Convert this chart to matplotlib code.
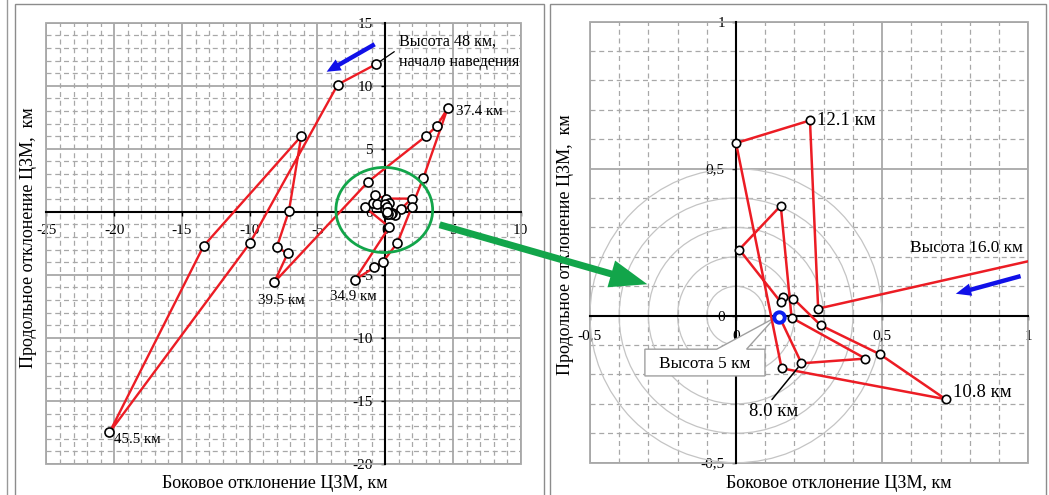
import matplotlib
matplotlib.use("Agg")
import matplotlib.pyplot as plt
from matplotlib.patches import Rectangle, Ellipse, Circle, Polygon, FancyArrowPatch
from matplotlib.lines import Line2D
from matplotlib.ticker import MultipleLocator, FuncFormatter

plt.rcParams['font.family'] = ['Liberation Serif', 'DejaVu Serif']
plt.rcParams['axes.unicode_minus'] = False

# Trajectory of the aim point deviation, km (lateral, longitudinal)
x_km = [-0.7, -3.5, -10.0, -20.35, -13.4, -6.2, -7.1, -8.0, -7.2, -8.2,
        -1.25, 3.0, 3.8, 4.6, 2.8, 0.9, -0.2, -0.8, -2.25,
        0.3, -1.49, -0.92, -0.58, -0.75, 0.04, 1.96, 1.14, 1.96,
        0.281, 0.253, 0.0, 0.156, 0.717, 0.492, 0.29, 0.196, 0.159, 0.153,
        0.011, 0.153, 0.19, 0.443, 0.224, 0.148]
y_km = [11.7, 10.1, -2.5, -17.5, -2.7, 6.0, 0.1, -2.8, -3.3, -5.6,
        2.4, 6.0, 6.8, 8.2, 2.65, -2.46, -4.0, -4.4, -5.4,
        -1.2, 0.35, 0.72, 0.61, 1.33, 1.05, 1.05, 0.21, 0.40,
        0.024, 0.664, 0.587, -0.179, -0.284, -0.131, -0.033, 0.058, 0.064, 0.046,
        0.225, 0.374, -0.007, -0.146, -0.162, -0.003]

# Altitude labels
start_label = "Высота 48 км,\nначало наведения"
left_label_idx = [3, 9, 13, 18]
left_label_txt = ["45.5 км", "39.5 км", "37.4 км", "34.9 км"]
right_label_idx = [29, 32, 42]
right_label_txt = ["12.1 км", "10.8 км", "8.0 км"]
entry_label = "Высота 16.0 км"
final_label = "Высота 5 км"

# Range rings around the target, km
ring_radii = [0.1, 0.2, 0.3, 0.4, 0.5]

xlabel = "Боковое отклонение ЦЗМ, км"
ylabel = "Продольное отклонение ЦЗМ,  км"

RED = '#ec1c24'
BLUE = '#1010e8'
GREEN = '#12a54a'
GRID = '#a8a8a8'

W, H = 1049, 495
fig = plt.figure(figsize=(W / 100, H / 100), dpi=100)


def px(x, y):
    return (x / W, 1 - y / H)


# panel frames
fig.add_artist(Line2D([7 / W, 7 / W], [0, 1], color='#999999', lw=1.0))
for x0, x1 in [(15, 544), (550, 1046)]:
    fig.add_artist(Rectangle(px(x0, 500), (x1 - x0) / W, 496 / H, fill=False,
                             ec='#8c8c8c', lw=1.0))


def style_axes(ax, xlim, ylim, major, minor, fmt, lab_size, xpad, ypad):
    ax.set_xlim(*xlim)
    ax.set_ylim(*ylim)
    ax.xaxis.set_major_locator(MultipleLocator(major))
    ax.yaxis.set_major_locator(MultipleLocator(major))
    ax.xaxis.set_minor_locator(MultipleLocator(minor))
    ax.yaxis.set_minor_locator(MultipleLocator(minor))
    ax.xaxis.set_major_formatter(FuncFormatter(fmt))
    ax.yaxis.set_major_formatter(FuncFormatter(fmt))
    ax.grid(which='minor', color=GRID, lw=0.9, ls=(0, (4, 3)), zorder=0)
    ax.grid(which='major', color=GRID, lw=1.3, ls='-', zorder=0)
    ax.set_axisbelow(True)
    for s in ['top', 'right']:
        ax.spines[s].set_visible(False)
    ax.spines['left'].set_position(('data', 0))
    ax.spines['bottom'].set_position(('data', 0))
    for s in ['left', 'bottom']:
        ax.spines[s].set_color('black')
        ax.spines[s].set_linewidth(1.5)
    ax.tick_params(which='minor', length=0)
    ax.tick_params(axis='x', which='major', direction='out', length=3,
                   width=1, labelsize=lab_size, pad=xpad)
    ax.tick_params(axis='y', which='major', direction='out', length=3,
                   width=1, labelsize=lab_size, pad=ypad)
    ax.add_patch(Rectangle((0, 0), 1, 1, transform=ax.transAxes, fill=False,
                           ec=GRID, lw=1.3, zorder=1, clip_on=False))


def int_fmt(v, pos):
    return "%d" % round(v)


def comma_fmt(v, pos):
    s = "%g" % round(v, 3)
    if s == "-0":
        s = "0"
    return s.replace('.', ',')


# ---------- left panel: full trajectory ----------
axL = fig.add_axes([0.0443, 0.0626, 0.4521, 0.8915])
style_axes(axL, (-25, 10), (-20, 15), 5, 1, int_fmt, 11, 6, 6)
axL.plot(x_km, y_km, color=RED, lw=1.7, zorder=4, marker='o', ms=6.5,
         mfc='white', mec='black', mew=1.2)

for i, t in zip(left_label_idx, left_label_txt):
    off = {3: ((3, -5), 'left'), 9: ((5, -13), 'center'),
           13: ((6, -2), 'left'), 18: ((-1, -12), 'center')}[i]
    axL.annotate(t, (x_km[i], y_km[i]), xytext=off[0], textcoords='offset points',
                 ha=off[1], va='center', fontsize=10.8, zorder=6)

axL.annotate(start_label, (x_km[0], y_km[0]), xytext=(17, 9),
             textcoords='offset points', ha='left', va='center', fontsize=11.6,
             linespacing=1.35, zorder=6,
             arrowprops=dict(arrowstyle='-', color='black', lw=0.9,
                             relpos=(0.0, 0.6), shrinkA=2, shrinkB=4))

axL.add_patch(Ellipse((-0.07, 0.15), 7.14, 6.75, fill=False, ec=GREEN,
                      lw=2.0, zorder=5))
axL.add_patch(FancyArrowPatch((-0.6, 13.4), (-4.5, 11.0),
                              arrowstyle='simple,head_length=10,head_width=9,tail_width=3.2',
                              mutation_scale=1, color=BLUE, lw=0, zorder=6))
axL.set_xlabel(xlabel, fontsize=13)
axL.set_ylabel(ylabel, fontsize=13)
axL.xaxis.set_label_coords(0.481, -0.026)
axL.yaxis.set_label_coords(-0.021, 0.514)

# ---------- right panel: final approach ----------
axR = fig.add_axes([0.5624, 0.0653, 0.4178, 0.891])
style_axes(axR, (-0.5, 1), (-0.5, 1), 0.5, 0.1, comma_fmt, 11, 7, 5)
for r in ring_radii:
    axR.add_patch(Circle((0, 0), r, fill=False, ec='#c4c4c4', lw=0.9, zorder=1))

axR.plot(x_km, y_km, color=RED, lw=1.8, zorder=4, marker='o', ms=6,
         mfc='white', mec='black', mew=1.2)
axR.plot(x_km[-1], y_km[-1], marker='o', ms=7.5, mfc='white', mec='#0a1ef0',
         mew=2.8, zorder=5)

offs = {29: ((5, 0), 'left'), 32: ((5.5, 4.5), 'left')}
for i, t in zip(right_label_idx, right_label_txt):
    if i in offs:
        axR.annotate(t, (x_km[i], y_km[i]), xytext=offs[i][0],
                     textcoords='offset points', ha=offs[i][1], va='center',
                     fontsize=13.5, zorder=6)
    else:
        axR.annotate(t, (x_km[i], y_km[i]), xytext=(-20, -35),
                     textcoords='offset points', ha='center', va='center',
                     fontsize=13.5, zorder=6,
                     arrowprops=dict(arrowstyle='-', color='black', lw=1.1,
                                     relpos=(0.4, 1.0), shrinkA=1, shrinkB=4))

axR.text(0.595, 0.231, entry_label, ha='left', va='center', fontsize=12.4, zorder=6)

# callout box for the final point
callout = Polygon([(-0.312, -0.114), (-0.066, -0.114), (x_km[-1] - 0.015, y_km[-1] - 0.004),
                   (0.036, -0.114), (0.099, -0.114), (0.099, -0.205),
                   (-0.312, -0.205)], closed=True, fc='white', ec='#a0a0a0',
                  lw=1.0, zorder=3)
axR.add_patch(callout)
axR.text(-0.107, -0.166, final_label, ha='center', va='center', fontsize=12.4,
         zorder=6)

axR.add_patch(FancyArrowPatch((0.983, 0.137), (0.743, 0.072),
                              arrowstyle='simple,head_length=11,head_width=9,tail_width=3.2',
                              mutation_scale=1, color=BLUE, lw=0, zorder=6))
axR.set_xlabel(xlabel, fontsize=13)
axR.set_ylabel(ylabel, fontsize=13)
axR.xaxis.set_label_coords(0.567, -0.028)
axR.yaxis.set_label_coords(-0.037, 0.494)

# connector arrow between panels
fig.add_artist(FancyArrowPatch(px(437, 224), px(650, 285),
                               arrowstyle='simple,head_length=27,head_width=20,tail_width=5',
                               mutation_scale=1, color=GREEN, lw=0,
                               transform=fig.transFigure, zorder=10))

fig.savefig('out.png', dpi=100, facecolor='white')
